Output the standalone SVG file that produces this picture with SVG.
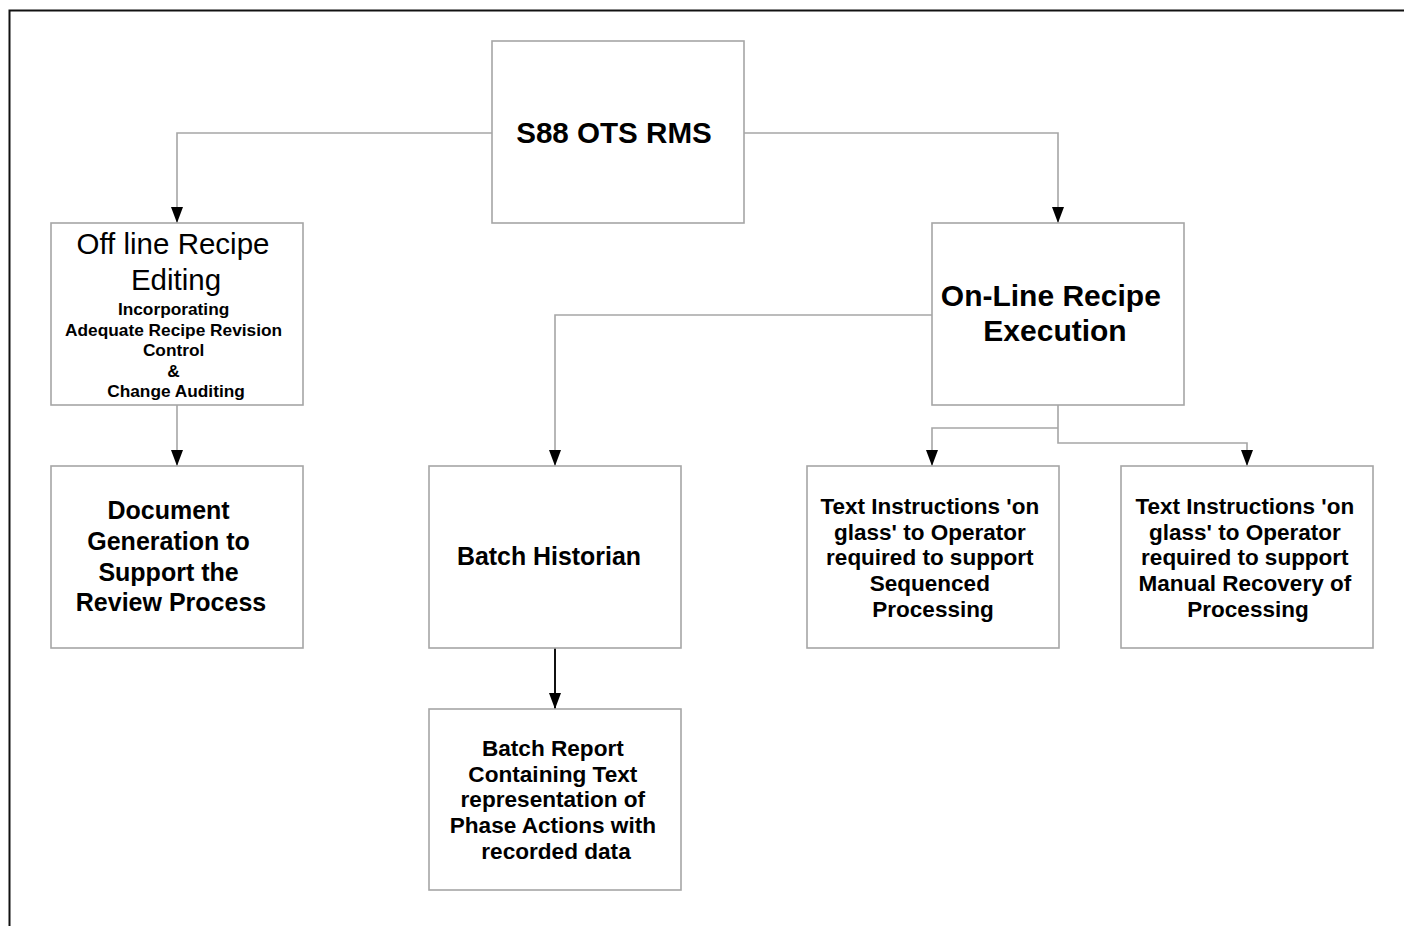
<svg xmlns="http://www.w3.org/2000/svg" width="1404" height="926" viewBox="0 0 1404 926">
  <style>
    .box { fill: #ffffff; stroke: #a6a6a6; stroke-width: 1.6; }
    .wire { fill: none; stroke: #a6a6a6; stroke-width: 1.6; }
    .wire-dark { fill: none; stroke: #111111; stroke-width: 2; }
    text { font-family: "Liberation Sans", Arial, sans-serif; fill: #000000; text-anchor: middle; }
    .b { font-weight: bold; }
  </style>
  <defs>
    <marker id="arrow" viewBox="0 0 16 12" refX="16" refY="6" markerWidth="16" markerHeight="12" markerUnits="userSpaceOnUse" orient="auto">
      <path d="M0,0 L16,6 L0,12 Z" fill="#000000"/>
    </marker>
  </defs>

  <rect width="1404" height="926" fill="#ffffff"/>
  <!-- page frame -->
  <path d="M9.5,926 V10.5 H1404" fill="none" stroke="#111111" stroke-width="2"/>

  <!-- connectors -->
  <g id="connectors">
    <path class="wire" d="M492,133 H177 V223" marker-end="url(#arrow)"/>
    <path class="wire" d="M744,133 H1058 V223" marker-end="url(#arrow)"/>
    <path class="wire" d="M177,405 V466" marker-end="url(#arrow)"/>
    <path class="wire" d="M932,315 H555 V466" marker-end="url(#arrow)"/>
    <path class="wire" d="M1058,405 V443 H1247 V466" marker-end="url(#arrow)"/>
    <path class="wire" d="M1058,428 H932 V466" marker-end="url(#arrow)"/>
    <path class="wire-dark" d="M555,648 V709" marker-end="url(#arrow)"/>
  </g>

  <g id="node-rms">
    <rect class="box" x="492" y="41" width="252" height="182"/>
    <text class="b" x="614" y="143" font-size="29.6">S88 OTS RMS</text>
  </g>

  <g id="node-offline">
    <rect class="box" x="51" y="223" width="252" height="182"/>
    <text x="173" y="254" font-size="29.5">Off line Recipe</text>
    <text x="176" y="290" font-size="29.5">Editing</text>
    <text class="b" font-size="17.3">
      <tspan x="176" y="315">Incorporating</tspan>
      <tspan x="176" y="335.5">Adequate Recipe Revision</tspan>
      <tspan x="176" y="356">Control</tspan>
      <tspan x="176" y="376.5">&amp;</tspan>
      <tspan x="176" y="397">Change Auditing</tspan>
    </text>
  </g>

  <g id="node-docgen">
    <rect class="box" x="51" y="466" width="252" height="182"/>
    <text class="b" font-size="25">
      <tspan x="172" y="519">Document</tspan>
      <tspan x="172" y="550">Generation to</tspan>
      <tspan x="172" y="580.5">Support the</tspan>
      <tspan x="171" y="611">Review Process</tspan>
    </text>
  </g>

  <g id="node-online">
    <rect class="box" x="932" y="223" width="252" height="182"/>
    <text class="b" font-size="30">
      <tspan x="1055" y="306">On-Line Recipe</tspan>
      <tspan x="1055" y="341">Execution</tspan>
    </text>
  </g>

  <g id="node-historian">
    <rect class="box" x="429" y="466" width="252" height="182"/>
    <text class="b" x="549" y="565" font-size="24.9">Batch Historian</text>
  </g>

  <g id="node-report">
    <rect class="box" x="429" y="709" width="252" height="181"/>
    <text class="b" font-size="22.6">
      <tspan x="556" y="756">Batch Report</tspan>
      <tspan x="556" y="781.5">Containing Text</tspan>
      <tspan x="556" y="807">representation of</tspan>
      <tspan x="556" y="833">Phase Actions with</tspan>
      <tspan x="556" y="858.5">recorded data</tspan>
    </text>
  </g>

  <g id="node-sequenced">
    <rect class="box" x="807" y="466" width="252" height="182"/>
    <text class="b" font-size="22.5">
      <tspan x="933" y="514">Text Instructions 'on</tspan>
      <tspan x="933" y="539.5">glass' to Operator</tspan>
      <tspan x="933" y="565">required to support</tspan>
      <tspan x="933" y="591">Sequenced</tspan>
      <tspan x="933" y="616.5">Processing</tspan>
    </text>
  </g>

  <g id="node-recovery">
    <rect class="box" x="1121" y="466" width="252" height="182"/>
    <text class="b" font-size="22.5">
      <tspan x="1248" y="514">Text Instructions 'on</tspan>
      <tspan x="1248" y="539.5">glass' to Operator</tspan>
      <tspan x="1248" y="565">required to support</tspan>
      <tspan x="1248" y="591">Manual Recovery of</tspan>
      <tspan x="1248" y="616.5">Processing</tspan>
    </text>
  </g>
</svg>
